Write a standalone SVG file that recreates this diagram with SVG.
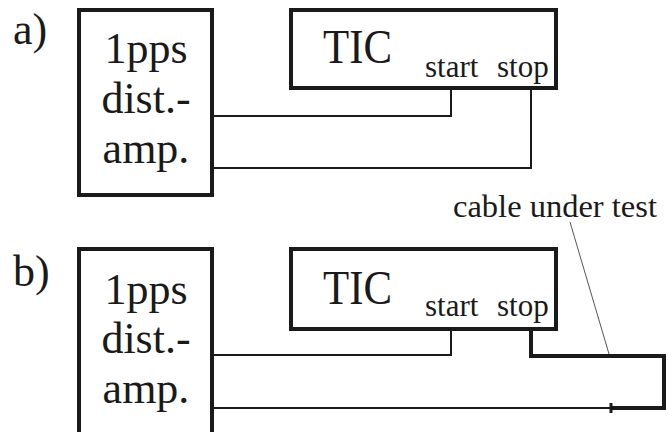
<svg xmlns="http://www.w3.org/2000/svg" width="668" height="432" viewBox="0 0 668 432">
<style>
.box{fill:#fff;stroke:#1a1a1a;stroke-width:4}
.w{fill:none;stroke:#1a1a1a;stroke-width:2}
.tw{fill:none;stroke:#1a1a1a;stroke-width:4}
.big{font-size:44px}
.tic{font-size:48px}
.sm{font-size:31px}
.lbl{font-size:32.5px}
</style>
<rect width="668" height="432" fill="#fff"/>
<g font-family="Liberation Serif, DejaVu Serif, Times New Roman, serif" fill="#1a1a1a">
<text class="big" x="13" y="44">a)</text>
<text class="big" x="13" y="286">b)</text>
<g id="dist-a">
<rect class="box" x="79" y="10" width="133" height="185"/>
<text class="big" x="146" y="63" text-anchor="middle">1pps</text>
<text class="big" x="146" y="113" text-anchor="middle">dist.-</text>
<text class="big" x="146" y="163" text-anchor="middle">amp.</text>
</g>
<g id="tic-a">
<rect class="box" x="291" y="10" width="265" height="78"/>
<text class="tic" x="323" y="63" textLength="69" lengthAdjust="spacingAndGlyphs">TIC</text>
<text class="sm" x="425" y="77">start</text>
<text class="sm" x="497" y="77">stop</text>
</g>
<g id="dist-b">
<rect class="box" x="79" y="249" width="133" height="200"/>
<text class="big" x="146" y="304" text-anchor="middle">1pps</text>
<text class="big" x="146" y="353" text-anchor="middle">dist.-</text>
<text class="big" x="146" y="403" text-anchor="middle">amp.</text>
</g>
<g id="tic-b">
<rect class="box" x="291" y="249" width="265" height="80"/>
<text class="tic" x="323" y="304" textLength="69" lengthAdjust="spacingAndGlyphs">TIC</text>
<text class="sm" x="425" y="316">start</text>
<text class="sm" x="497" y="316">stop</text>
</g>
<g id="label">
<text class="lbl" x="453" y="217">cable under test</text>
</g>
</g>
<g id="connectors">
<polyline class="w" points="214,116 451,116 451,90"/>
<polyline class="w" points="214,168 531,168 531,90"/>
<polyline class="w" points="214,355 451,355 451,331"/>
<polyline class="w" points="214,408 611,408"/>
<polyline class="tw" points="531,331 531,356 664,356 664,408 611,408"/>
<line x1="611" y1="403" x2="611" y2="413" stroke="#1a1a1a" stroke-width="3"/>
<line x1="570" y1="222" x2="609" y2="354" stroke="#555" stroke-width="1"/>
</g>
</svg>
